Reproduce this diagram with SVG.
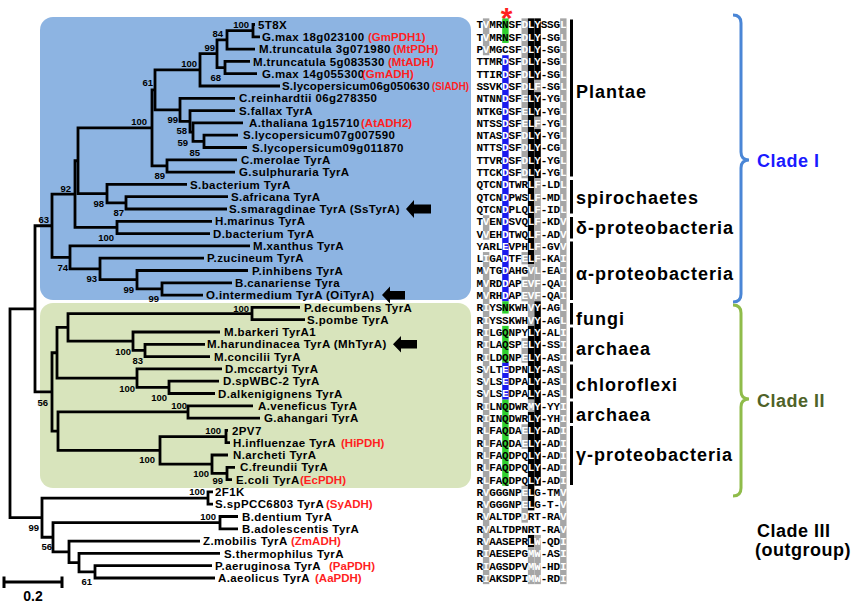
<svg xmlns="http://www.w3.org/2000/svg" width="856" height="605" viewBox="0 0 856 605">
<style>
.t{font-family:"Liberation Sans",Arial,sans-serif;font-weight:bold;font-size:11.5px;letter-spacing:0.4px;fill:#000}
.r{fill:#ff1f1f;letter-spacing:0}
.bs{font-family:"Liberation Sans",Arial,sans-serif;font-weight:bold;font-size:9.5px;text-anchor:end;fill:#000}
.sq{font-family:"Liberation Mono","Courier New",monospace;font-weight:bold;font-size:11px;text-anchor:middle;fill:#000}
.w{fill:#fff}
.grp{font-family:"Liberation Sans",Arial,sans-serif;font-weight:bold;font-size:18px;letter-spacing:1px;fill:#000}
.cl{font-family:"Liberation Sans",Arial,sans-serif;font-weight:bold;font-size:18px;letter-spacing:0.5px;fill:#000}
.tree path{fill:none;stroke:#000;stroke-width:2.8;stroke-linejoin:miter}
.gy{fill:#a6a6a6}.bk{fill:#000}.gn{fill:#2fd02f}.bl{fill:#1a1aee}
.bar{fill:#000}
.arrow{fill:#000}
</style>
<rect id="cladeI-bg" x="40" y="17" width="431" height="283" rx="13" fill="#8db4e2"/>
<rect id="cladeII-bg" x="40" y="303" width="431" height="185" rx="13" fill="#d8e4bc"/>

<g id="connectors" class="tree">
<path d="M255,24.5 H253 V36.8 H260"/>
<path d="M253,30.65 H227 V49.1 H255"/>
<path d="M250,61.4 H225 V73.7 H257"/>
<path d="M227,39.9 H217 V67.55 H225"/>
<path d="M217,53.7 H200 V86 H280"/>
<path d="M238,135.2 H204 V147.5 H247"/>
<path d="M243,122.9 H193 V141.35 H204"/>
<path d="M235,110.6 H190 V132.1 H193"/>
<path d="M235,98.3 H180 V121.35 H190"/>
<path d="M200,69.85 H155 V109.8 H180"/>
<path d="M237,159.8 H167 V172.1 H235"/>
<path d="M155,89.8 H152 V165.95 H167"/>
<path d="M228,196.7 H126 V209 H227"/>
<path d="M187,184.4 H107 V202.85 H126"/>
<path d="M152,127.9 H78 V193.6 H107"/>
<path d="M212,221.3 H117 V233.6 H210"/>
<path d="M78,160.75 H75 V227.45 H117"/>
<path d="M232,282.8 H162 V295.1 H203"/>
<path d="M248,270.5 H137 V288.95 H162"/>
<path d="M204,258.2 H100 V279.7 H137"/>
<path d="M250,245.9 H70 V268.95 H100"/>
<path d="M75,194.1 H52 V257.4 H70"/>
<path d="M300,307.4 H252 V319.7 H305"/>
<path d="M205,344.3 H145 V356.6 H210"/>
<path d="M220,332 H133 V350.45 H145"/>
<path d="M252,313.55 H68 V341.2 H133"/>
<path d="M219,381.2 H169 V393.5 H215"/>
<path d="M222,368.9 H137 V387.35 H169"/>
<path d="M68,327.4 H57 V378.1 H137"/>
<path d="M253,405.8 H188 V418.1 H260"/>
<path d="M228,430.4 H226 V442.7 H230"/>
<path d="M235,467.3 H227 V479.6 H232"/>
<path d="M228,455 H212 V473.45 H227"/>
<path d="M226,436.55 H160 V464.2 H212"/>
<path d="M188,411.95 H58 V450.4 H160"/>
<path d="M57,352.75 H52 V431.2 H58"/>
<path d="M52,225.75 H35 V391.95 H52"/>
<path d="M213,491.9 H208 V504.2 H213"/>
<path d="M238,516.5 H220 V528.8 H238"/>
<path d="M212,565.7 H95 V578 H215"/>
<path d="M220,553.4 H79 V571.85 H95"/>
<path d="M200,541.1 H69 V562.6 H79"/>
<path d="M220,522.65 H53 V551.85 H69"/>
<path d="M208,498.05 H42 V537.25 H53"/>
<path d="M35,308.85 H10 V517.65 H42"/>
</g>

<g id="bootstrap">
<text class="bs" x="249" y="28">100</text>
<text class="bs" x="223" y="37">84</text>
<text class="bs" x="215" y="51">99</text>
<text class="bs" x="197" y="67">100</text>
<text class="bs" x="221" y="81">68</text>
<text class="bs" x="153" y="86">61</text>
<text class="bs" x="147" y="125">100</text>
<text class="bs" x="178" y="123">99</text>
<text class="bs" x="187" y="134">58</text>
<text class="bs" x="188" y="146">59</text>
<text class="bs" x="200" y="156">85</text>
<text class="bs" x="165" y="179">89</text>
<text class="bs" x="71" y="192">92</text>
<text class="bs" x="104" y="207">98</text>
<text class="bs" x="124" y="216">87</text>
<text class="bs" x="49" y="223">63</text>
<text class="bs" x="114" y="241">100</text>
<text class="bs" x="68" y="271">74</text>
<text class="bs" x="97" y="282">93</text>
<text class="bs" x="134" y="293">99</text>
<text class="bs" x="159" y="302">99</text>
<text class="bs" x="249" y="312">100</text>
<text class="bs" x="131" y="355">100</text>
<text class="bs" x="143" y="364">83</text>
<text class="bs" x="135" y="392">100</text>
<text class="bs" x="167" y="401">100</text>
<text class="bs" x="48" y="406">56</text>
<text class="bs" x="187" y="409">100</text>
<text class="bs" x="221" y="434">100</text>
<text class="bs" x="155" y="463">100</text>
<text class="bs" x="209" y="477">100</text>
<text class="bs" x="223" y="484">99</text>
<text class="bs" x="205" y="495">100</text>
<text class="bs" x="39" y="531">99</text>
<text class="bs" x="216" y="520">100</text>
<text class="bs" x="52" y="550">56</text>
<text class="bs" x="92" y="585">61</text>
</g>

<g id="leaves">
<g id="leaf-01"><text class="t" x="258" y="28.6">5T8X</text></g>
<g id="leaf-02"><text class="t" x="262" y="40.9">G.max 18g023100</text><text class="t r" x="368" y="40.9">(GmPDH1)</text></g>
<g id="leaf-03"><text class="t" x="259" y="53.2">M.truncatula 3g071980</text><text class="t r" x="393" y="53.2">(MtPDH)</text></g>
<g id="leaf-04"><text class="t" x="253" y="65.5">M.truncatula 5g083530</text><text class="t r" x="388" y="65.5">(MtADH)</text></g>
<g id="leaf-05"><text class="t" x="262" y="77.8">G.max 14g055300</text><text class="t r" x="362" y="77.8">(GmADH)</text></g>
<g id="leaf-06"><text class="t" x="282" y="90.1" style="letter-spacing:0.2px">S.lycopersicum06g050630</text><text class="t r" x="432" y="90.1" textLength="37" lengthAdjust="spacingAndGlyphs">(SlADH)</text></g>
<g id="leaf-07"><text class="t" x="239" y="102.4">C.reinhardtii 06g278350</text></g>
<g id="leaf-08"><text class="t" x="239" y="114.7">S.fallax TyrA</text></g>
<g id="leaf-09"><text class="t" x="249" y="127">A.thaliana 1g15710</text><text class="t r" x="361" y="127">(AtADH2)</text></g>
<g id="leaf-10"><text class="t" x="243" y="139.3">S.lycopersicum07g007590</text></g>
<g id="leaf-11"><text class="t" x="252" y="151.6">S.lycopersicum09g011870</text></g>
<g id="leaf-12"><text class="t" x="241" y="163.9">C.merolae TyrA</text></g>
<g id="leaf-13"><text class="t" x="239" y="176.2">G.sulphuraria TyrA</text></g>
<g id="leaf-14"><text class="t" x="190" y="188.5">S.bacterium TyrA</text></g>
<g id="leaf-15"><text class="t" x="231" y="200.8">S.africana TyrA</text></g>
<g id="leaf-16"><text class="t" x="229" y="213.1">S.smaragdinae TyrA (SsTyrA)</text><polygon class="arrow" points="406,209 414,200 414,204.5 431,204.5 431,213.5 414,213.5 414,218"/></g>
<g id="leaf-17"><text class="t" x="215" y="225.4">H.marinus TyrA</text></g>
<g id="leaf-18"><text class="t" x="213" y="237.7">D.bacterium TyrA</text></g>
<g id="leaf-19"><text class="t" x="253" y="250">M.xanthus TyrA</text></g>
<g id="leaf-20"><text class="t" x="207" y="262.3">P.zucineum TyrA</text></g>
<g id="leaf-21"><text class="t" x="252" y="274.6">P.inhibens TyrA</text></g>
<g id="leaf-22"><text class="t" x="235" y="286.9">B.canariense Tyra</text></g>
<g id="leaf-23"><text class="t" x="206" y="299.2">O.intermedium TyrA (OiTyrA)</text><polygon class="arrow" points="382,295.1 390,286.6 390,291 405,291 405,299.5 390,299.5 390,303.6"/></g>
<g id="leaf-24"><text class="t" x="304" y="311.5">P.decumbens TyrA</text></g>
<g id="leaf-25"><text class="t" x="307" y="323.8">S.pombe TyrA</text></g>
<g id="leaf-26"><text class="t" x="224" y="336.1">M.barkeri TyrA1</text></g>
<g id="leaf-27"><text class="t" x="207" y="348.4">M.harundinacea TyrA (MhTyrA)</text><polygon class="arrow" points="393,344.3 401,336 401,340 417,340 417,348.6 401,348.6 401,352.6"/></g>
<g id="leaf-28"><text class="t" x="214" y="360.7">M.concilii TyrA</text></g>
<g id="leaf-29"><text class="t" x="225" y="373">D.mccartyi TyrA</text></g>
<g id="leaf-30"><text class="t" x="223" y="385.3">D.spWBC-2 TyrA</text></g>
<g id="leaf-31"><text class="t" x="218" y="397.6">D.alkenigignens TyrA</text></g>
<g id="leaf-32"><text class="t" x="258" y="409.9">A.veneficus TyrA</text></g>
<g id="leaf-33"><text class="t" x="264" y="422.2">G.ahangari TyrA</text></g>
<g id="leaf-34"><text class="t" x="232" y="434.5">2PV7</text></g>
<g id="leaf-35"><text class="t" x="233" y="446.8">H.influenzae TyrA</text><text class="t r" x="341" y="446.8">(HiPDH)</text></g>
<g id="leaf-36"><text class="t" x="233" y="459.1">N.archeti TyrA</text></g>
<g id="leaf-37"><text class="t" x="240" y="471.4">C.freundii TyrA</text></g>
<g id="leaf-38"><text class="t" x="236" y="483.7">E.coli TyrA</text><text class="t r" x="300" y="483.7">(EcPDH)</text></g>
<g id="leaf-39"><text class="t" x="215" y="496">2F1K</text></g>
<g id="leaf-40"><text class="t" x="215" y="508.3">S.spPCC6803 TyrA</text><text class="t r" x="326" y="508.3">(SyADH)</text></g>
<g id="leaf-41"><text class="t" x="242" y="520.6">B.dentium TyrA</text></g>
<g id="leaf-42"><text class="t" x="242" y="532.9">B.adolescentis TyrA</text></g>
<g id="leaf-43"><text class="t" x="203" y="545.2">Z.mobilis TyrA</text><text class="t r" x="291" y="545.2">(ZmADH)</text></g>
<g id="leaf-44"><text class="t" x="224" y="557.5">S.thermophilus TyrA</text></g>
<g id="leaf-45"><text class="t" x="215" y="569.8">P.aeruginosa TyrA</text><text class="t r" x="329" y="569.8">(PaPDH)</text></g>
<g id="leaf-46"><text class="t" x="218" y="582.1">A.aeolicus TyrA</text><text class="t r" x="315" y="582.1">(AaPDH)</text></g>
</g>

<g id="alignment">
<rect class="gy" x="482.9" y="18.35" width="6.43" height="36.9"/>
<rect class="gy" x="482.9" y="215.15" width="6.43" height="24.6"/>
<rect class="gy" x="482.9" y="252.05" width="6.43" height="332.1"/>
<rect class="gn" x="502.2" y="18.35" width="6.43" height="24.6"/>
<rect class="bl" x="502.2" y="55.25" width="6.43" height="246"/>
<rect class="gn" x="502.2" y="301.25" width="6.43" height="12.3"/>
<rect class="gn" x="502.2" y="325.85" width="6.43" height="36.9"/>
<rect class="bl" x="502.2" y="362.75" width="6.43" height="36.9"/>
<rect class="gn" x="502.2" y="399.65" width="6.43" height="86.1"/>
<rect class="gy" x="521.5" y="18.35" width="6.43" height="159.9"/>
<rect class="gy" x="521.5" y="252.05" width="6.43" height="12.3"/>
<rect class="gy" x="521.5" y="276.65" width="6.43" height="24.6"/>
<rect class="gy" x="521.5" y="338.15" width="6.43" height="24.6"/>
<rect class="gy" x="521.5" y="424.25" width="6.43" height="24.6"/>
<rect class="gy" x="521.5" y="485.75" width="6.43" height="36.9"/>
<rect class="bk" x="527.9" y="18.35" width="6.43" height="246"/>
<rect class="gy" x="527.9" y="264.35" width="6.43" height="61.5"/>
<rect class="bk" x="527.9" y="325.85" width="6.43" height="73.8"/>
<rect class="gy" x="527.9" y="399.65" width="6.43" height="12.3"/>
<rect class="bk" x="527.9" y="411.95" width="6.43" height="98.4"/>
<rect class="bk" x="527.9" y="534.95" width="6.43" height="12.3"/>
<rect class="gy" x="527.9" y="547.25" width="6.43" height="36.9"/>
<rect class="bk" x="534.4" y="18.35" width="6.43" height="61.5"/>
<rect class="gy" x="534.4" y="79.85" width="6.43" height="12.3"/>
<rect class="bk" x="534.4" y="92.15" width="6.43" height="24.6"/>
<rect class="gy" x="534.4" y="116.75" width="6.43" height="12.3"/>
<rect class="bk" x="534.4" y="129.05" width="6.43" height="49.2"/>
<rect class="gy" x="534.4" y="178.25" width="6.43" height="123"/>
<rect class="bk" x="534.4" y="301.25" width="6.43" height="184.5"/>
<rect class="gy" x="534.4" y="534.95" width="6.43" height="49.2"/>
<rect class="gy" x="560.1" y="18.35" width="6.43" height="565.8"/>
<text class="sq" x="479.7 486.1 492.6 499 505.4 511.9 518.3 524.7 531.1 537.6 544 550.4 556.9 563.3" y="28.4">T<tspan class="w">V</tspan>MRNSF<tspan class="w">DLY</tspan>SSG<tspan class="w">L</tspan></text>
<text class="sq" x="479.7 486.1 492.6 499 505.4 511.9 518.3 524.7 531.1 537.6 544 550.4 556.9 563.3" y="40.7">T<tspan class="w">V</tspan>MRNSF<tspan class="w">DLY</tspan>-SG<tspan class="w">L</tspan></text>
<text class="sq" x="479.7 486.1 492.6 499 505.4 511.9 518.3 524.7 531.1 537.6 544 550.4 556.9 563.3" y="53">P<tspan class="w">V</tspan>MGCSF<tspan class="w">DLY</tspan>-SG<tspan class="w">L</tspan></text>
<text class="sq" x="479.7 486.1 492.6 499 505.4 511.9 518.3 524.7 531.1 537.6 544 550.4 556.9 563.3" y="65.3">TTMR<tspan class="w">D</tspan>SF<tspan class="w">DLY</tspan>-SG<tspan class="w">L</tspan></text>
<text class="sq" x="479.7 486.1 492.6 499 505.4 511.9 518.3 524.7 531.1 537.6 544 550.4 556.9 563.3" y="77.6">TTIR<tspan class="w">D</tspan>SF<tspan class="w">DLY</tspan>-SG<tspan class="w">L</tspan></text>
<text class="sq" x="479.7 486.1 492.6 499 505.4 511.9 518.3 524.7 531.1 537.6 544 550.4 556.9 563.3" y="89.9">SSVK<tspan class="w">D</tspan>SF<tspan class="w">DLF</tspan>-SG<tspan class="w">L</tspan></text>
<text class="sq" x="479.7 486.1 492.6 499 505.4 511.9 518.3 524.7 531.1 537.6 544 550.4 556.9 563.3" y="102.2">NTNN<tspan class="w">D</tspan>SF<tspan class="w">ELY</tspan>-YG<tspan class="w">L</tspan></text>
<text class="sq" x="479.7 486.1 492.6 499 505.4 511.9 518.3 524.7 531.1 537.6 544 550.4 556.9 563.3" y="114.5">NTKG<tspan class="w">D</tspan>SF<tspan class="w">ELY</tspan>-YG<tspan class="w">L</tspan></text>
<text class="sq" x="479.7 486.1 492.6 499 505.4 511.9 518.3 524.7 531.1 537.6 544 550.4 556.9 563.3" y="126.8">NTSS<tspan class="w">D</tspan>SF<tspan class="w">ELF</tspan>-YG<tspan class="w">L</tspan></text>
<text class="sq" x="479.7 486.1 492.6 499 505.4 511.9 518.3 524.7 531.1 537.6 544 550.4 556.9 563.3" y="139.1">NTAS<tspan class="w">D</tspan>SF<tspan class="w">DLY</tspan>-YG<tspan class="w">L</tspan></text>
<text class="sq" x="479.7 486.1 492.6 499 505.4 511.9 518.3 524.7 531.1 537.6 544 550.4 556.9 563.3" y="151.4">NTTS<tspan class="w">D</tspan>SF<tspan class="w">DLY</tspan>-CG<tspan class="w">L</tspan></text>
<text class="sq" x="479.7 486.1 492.6 499 505.4 511.9 518.3 524.7 531.1 537.6 544 550.4 556.9 563.3" y="163.7">TTVR<tspan class="w">D</tspan>SF<tspan class="w">DLY</tspan>-YG<tspan class="w">L</tspan></text>
<text class="sq" x="479.7 486.1 492.6 499 505.4 511.9 518.3 524.7 531.1 537.6 544 550.4 556.9 563.3" y="176">TTCK<tspan class="w">D</tspan>SF<tspan class="w">DLY</tspan>-YG<tspan class="w">L</tspan></text>
<text class="sq" x="479.7 486.1 492.6 499 505.4 511.9 518.3 524.7 531.1 537.6 544 550.4 556.9 563.3" y="188.3">QTCN<tspan class="w">D</tspan>TWR<tspan class="w">LF</tspan>-LD<tspan class="w">L</tspan></text>
<text class="sq" x="479.7 486.1 492.6 499 505.4 511.9 518.3 524.7 531.1 537.6 544 550.4 556.9 563.3" y="200.6">QTCN<tspan class="w">D</tspan>PWS<tspan class="w">LF</tspan>-MD<tspan class="w">L</tspan></text>
<text class="sq" x="479.7 486.1 492.6 499 505.4 511.9 518.3 524.7 531.1 537.6 544 550.4 556.9 563.3" y="212.9">QTCN<tspan class="w">D</tspan>PLQ<tspan class="w">LF</tspan>-ID<tspan class="w">L</tspan></text>
<text class="sq" x="479.7 486.1 492.6 499 505.4 511.9 518.3 524.7 531.1 537.6 544 550.4 556.9 563.3" y="225.2">T<tspan class="w">V</tspan>EN<tspan class="w">D</tspan>SVQ<tspan class="w">LF</tspan>-KD<tspan class="w">V</tspan></text>
<text class="sq" x="479.7 486.1 492.6 499 505.4 511.9 518.3 524.7 531.1 537.6 544 550.4 556.9 563.3" y="237.5">V<tspan class="w">V</tspan>EH<tspan class="w">D</tspan>TWQ<tspan class="w">LF</tspan>-AD<tspan class="w">V</tspan></text>
<text class="sq" x="479.7 486.1 492.6 499 505.4 511.9 518.3 524.7 531.1 537.6 544 550.4 556.9 563.3" y="249.8">YARL<tspan class="w">E</tspan>VPH<tspan class="w">LF</tspan>-GV<tspan class="w">V</tspan></text>
<text class="sq" x="479.7 486.1 492.6 499 505.4 511.9 518.3 524.7 531.1 537.6 544 550.4 556.9 563.3" y="262.1">L<tspan class="w">I</tspan>GA<tspan class="w">D</tspan>TF<tspan class="w">ELF</tspan>-KA<tspan class="w">I</tspan></text>
<text class="sq" x="479.7 486.1 492.6 499 505.4 511.9 518.3 524.7 531.1 537.6 544 550.4 556.9 563.3" y="274.4">M<tspan class="w">V</tspan>TG<tspan class="w">D</tspan>AHG<tspan class="w">VL</tspan>-EA<tspan class="w">I</tspan></text>
<text class="sq" x="479.7 486.1 492.6 499 505.4 511.9 518.3 524.7 531.1 537.6 544 550.4 556.9 563.3" y="286.7">M<tspan class="w">V</tspan>RD<tspan class="w">D</tspan>AP<tspan class="w">EVF</tspan>-QA<tspan class="w">I</tspan></text>
<text class="sq" x="479.7 486.1 492.6 499 505.4 511.9 518.3 524.7 531.1 537.6 544 550.4 556.9 563.3" y="299">M<tspan class="w">V</tspan>RH<tspan class="w">D</tspan>AP<tspan class="w">EVF</tspan>-QA<tspan class="w">I</tspan></text>
<text class="sq" x="479.7 486.1 492.6 499 505.4 511.9 518.3 524.7 531.1 537.6 544 550.4 556.9 563.3" y="311.3">R<tspan class="w">I</tspan>YSNKWH<tspan class="w">VY</tspan>-AG<tspan class="w">L</tspan></text>
<text class="sq" x="479.7 486.1 492.6 499 505.4 511.9 518.3 524.7 531.1 537.6 544 550.4 556.9 563.3" y="323.6">R<tspan class="w">I</tspan>YSSKWH<tspan class="w">VY</tspan>-AG<tspan class="w">L</tspan></text>
<text class="sq" x="479.7 486.1 492.6 499 505.4 511.9 518.3 524.7 531.1 537.6 544 550.4 556.9 563.3" y="335.9">R<tspan class="w">I</tspan>LGQNPY<tspan class="w">LY</tspan>-AL<tspan class="w">I</tspan></text>
<text class="sq" x="479.7 486.1 492.6 499 505.4 511.9 518.3 524.7 531.1 537.6 544 550.4 556.9 563.3" y="348.2">R<tspan class="w">I</tspan>LAQSP<tspan class="w">ELY</tspan>-SS<tspan class="w">I</tspan></text>
<text class="sq" x="479.7 486.1 492.6 499 505.4 511.9 518.3 524.7 531.1 537.6 544 550.4 556.9 563.3" y="360.5">R<tspan class="w">I</tspan>LDQNP<tspan class="w">ELY</tspan>-AS<tspan class="w">I</tspan></text>
<text class="sq" x="479.7 486.1 492.6 499 505.4 511.9 518.3 524.7 531.1 537.6 544 550.4 556.9 563.3" y="372.8">S<tspan class="w">V</tspan>LT<tspan class="w">E</tspan>DPN<tspan class="w">LY</tspan>-AS<tspan class="w">L</tspan></text>
<text class="sq" x="479.7 486.1 492.6 499 505.4 511.9 518.3 524.7 531.1 537.6 544 550.4 556.9 563.3" y="385.1">S<tspan class="w">V</tspan>LS<tspan class="w">E</tspan>DPA<tspan class="w">LY</tspan>-AS<tspan class="w">L</tspan></text>
<text class="sq" x="479.7 486.1 492.6 499 505.4 511.9 518.3 524.7 531.1 537.6 544 550.4 556.9 563.3" y="397.4">S<tspan class="w">V</tspan>LS<tspan class="w">E</tspan>DPA<tspan class="w">LY</tspan>-AS<tspan class="w">L</tspan></text>
<text class="sq" x="479.7 486.1 492.6 499 505.4 511.9 518.3 524.7 531.1 537.6 544 550.4 556.9 563.3" y="409.7">R<tspan class="w">I</tspan>LNQDWR<tspan class="w">MY</tspan>-YY<tspan class="w">I</tspan></text>
<text class="sq" x="479.7 486.1 492.6 499 505.4 511.9 518.3 524.7 531.1 537.6 544 550.4 556.9 563.3" y="422">R<tspan class="w">I</tspan>INQDWR<tspan class="w">LY</tspan>-YH<tspan class="w">I</tspan></text>
<text class="sq" x="479.7 486.1 492.6 499 505.4 511.9 518.3 524.7 531.1 537.6 544 550.4 556.9 563.3" y="434.3">R<tspan class="w">L</tspan>FAQDA<tspan class="w">ELY</tspan>-AD<tspan class="w">I</tspan></text>
<text class="sq" x="479.7 486.1 492.6 499 505.4 511.9 518.3 524.7 531.1 537.6 544 550.4 556.9 563.3" y="446.6">R<tspan class="w">L</tspan>FAQDA<tspan class="w">ELY</tspan>-AD<tspan class="w">I</tspan></text>
<text class="sq" x="479.7 486.1 492.6 499 505.4 511.9 518.3 524.7 531.1 537.6 544 550.4 556.9 563.3" y="458.9">R<tspan class="w">L</tspan>FAQDPQ<tspan class="w">LY</tspan>-AD<tspan class="w">I</tspan></text>
<text class="sq" x="479.7 486.1 492.6 499 505.4 511.9 518.3 524.7 531.1 537.6 544 550.4 556.9 563.3" y="471.2">R<tspan class="w">L</tspan>FAQDPQ<tspan class="w">LY</tspan>-AD<tspan class="w">I</tspan></text>
<text class="sq" x="479.7 486.1 492.6 499 505.4 511.9 518.3 524.7 531.1 537.6 544 550.4 556.9 563.3" y="483.5">R<tspan class="w">L</tspan>FAQDPQ<tspan class="w">LY</tspan>-AD<tspan class="w">I</tspan></text>
<text class="sq" x="479.7 486.1 492.6 499 505.4 511.9 518.3 524.7 531.1 537.6 544 550.4 556.9 563.3" y="495.8">R<tspan class="w">V</tspan>GGGNP<tspan class="w">EL</tspan>G-TM<tspan class="w">V</tspan></text>
<text class="sq" x="479.7 486.1 492.6 499 505.4 511.9 518.3 524.7 531.1 537.6 544 550.4 556.9 563.3" y="508.1">R<tspan class="w">V</tspan>GGGNP<tspan class="w">EL</tspan>G-T-<tspan class="w">V</tspan></text>
<text class="sq" x="479.7 486.1 492.6 499 505.4 511.9 518.3 524.7 531.1 537.6 544 550.4 556.9 563.3" y="520.4">R<tspan class="w">V</tspan>ALTDP<tspan class="w">D</tspan>RT-RA<tspan class="w">V</tspan></text>
<text class="sq" x="479.7 486.1 492.6 499 505.4 511.9 518.3 524.7 531.1 537.6 544 550.4 556.9 563.3" y="532.7">R<tspan class="w">V</tspan>ALTDPNRT-RA<tspan class="w">V</tspan></text>
<text class="sq" x="479.7 486.1 492.6 499 505.4 511.9 518.3 524.7 531.1 537.6 544 550.4 556.9 563.3" y="545">R<tspan class="w">V</tspan>AASEPR<tspan class="w">LW</tspan>-QD<tspan class="w">I</tspan></text>
<text class="sq" x="479.7 486.1 492.6 499 505.4 511.9 518.3 524.7 531.1 537.6 544 550.4 556.9 563.3" y="557.3">R<tspan class="w">I</tspan>AESEPG<tspan class="w">MW</tspan>-AS<tspan class="w">I</tspan></text>
<text class="sq" x="479.7 486.1 492.6 499 505.4 511.9 518.3 524.7 531.1 537.6 544 550.4 556.9 563.3" y="569.6">R<tspan class="w">I</tspan>AGSDPV<tspan class="w">MW</tspan>-HD<tspan class="w">I</tspan></text>
<text class="sq" x="479.7 486.1 492.6 499 505.4 511.9 518.3 524.7 531.1 537.6 544 550.4 556.9 563.3" y="581.9">R<tspan class="w">I</tspan>AKSDPI<tspan class="w">MW</tspan>-RD<tspan class="w">I</tspan></text>
<text x="506.5" y="27.5" text-anchor="middle" font-family="Liberation Sans, Arial, sans-serif" font-weight="bold" font-size="30" fill="#ff1f1f">*</text>
</g>

<g id="groups">
<rect class="bar" x="570" y="19.5" width="3" height="157"/>
<rect class="bar" x="570" y="180" width="3" height="33.5"/>
<rect class="bar" x="570" y="217" width="3" height="21.5"/>
<rect class="bar" x="570" y="241.5" width="3" height="58.5"/>
<rect class="bar" x="570" y="303" width="3" height="21.5"/>
<rect class="bar" x="570" y="327.5" width="3" height="34"/>
<rect class="bar" x="570" y="364.5" width="3" height="34"/>
<rect class="bar" x="570" y="401.5" width="3" height="21.5"/>
<rect class="bar" x="570" y="426" width="3" height="59"/>
<text class="grp" x="576" y="97.5">Plantae</text>
<text class="grp" x="576" y="203.5">spirochaetes</text>
<text class="grp" x="576" y="234">δ-proteobacteria</text>
<text class="grp" x="576" y="279.5">α-proteobacteria</text>
<text class="grp" x="576" y="325">fungi</text>
<text class="grp" x="576" y="355">archaea</text>
<text class="grp" x="576" y="390.5">chloroflexi</text>
<text class="grp" x="576" y="421">archaea</text>
<text class="grp" x="576" y="461">γ-proteobacteria</text>
</g>

<g id="clades">
<path d="M733,15 Q741,15 741,23 L741,152 Q741,160 749,160 Q741,160 741,168 L741,294 Q741,302 733,302" fill="none" stroke="#4a86d6" stroke-width="3"/>
<path d="M733,305 Q741,305 741,313 L741,391 Q741,399 749,399 Q741,399 741,407 L741,488 Q741,496 733,496" fill="none" stroke="#8fbc4a" stroke-width="3"/>
<text class="cl" x="757" y="167" style="fill:#1a1aff">Clade I</text>
<text class="cl" x="757" y="407" style="fill:#4f6228">Clade II</text>
<text class="cl" x="757" y="536.5">Clade III</text>
<text class="cl" x="755" y="556">(outgroup)</text>
</g>

<g id="scale">
<path d="M4,582 H62 M4,576.5 V588 M62,576.5 V588" fill="none" stroke="#000" stroke-width="3"/>
<text x="33" y="601" text-anchor="middle" font-family="Liberation Sans, Arial, sans-serif" font-weight="bold" font-size="14">0.2</text>
</g>
</svg>
